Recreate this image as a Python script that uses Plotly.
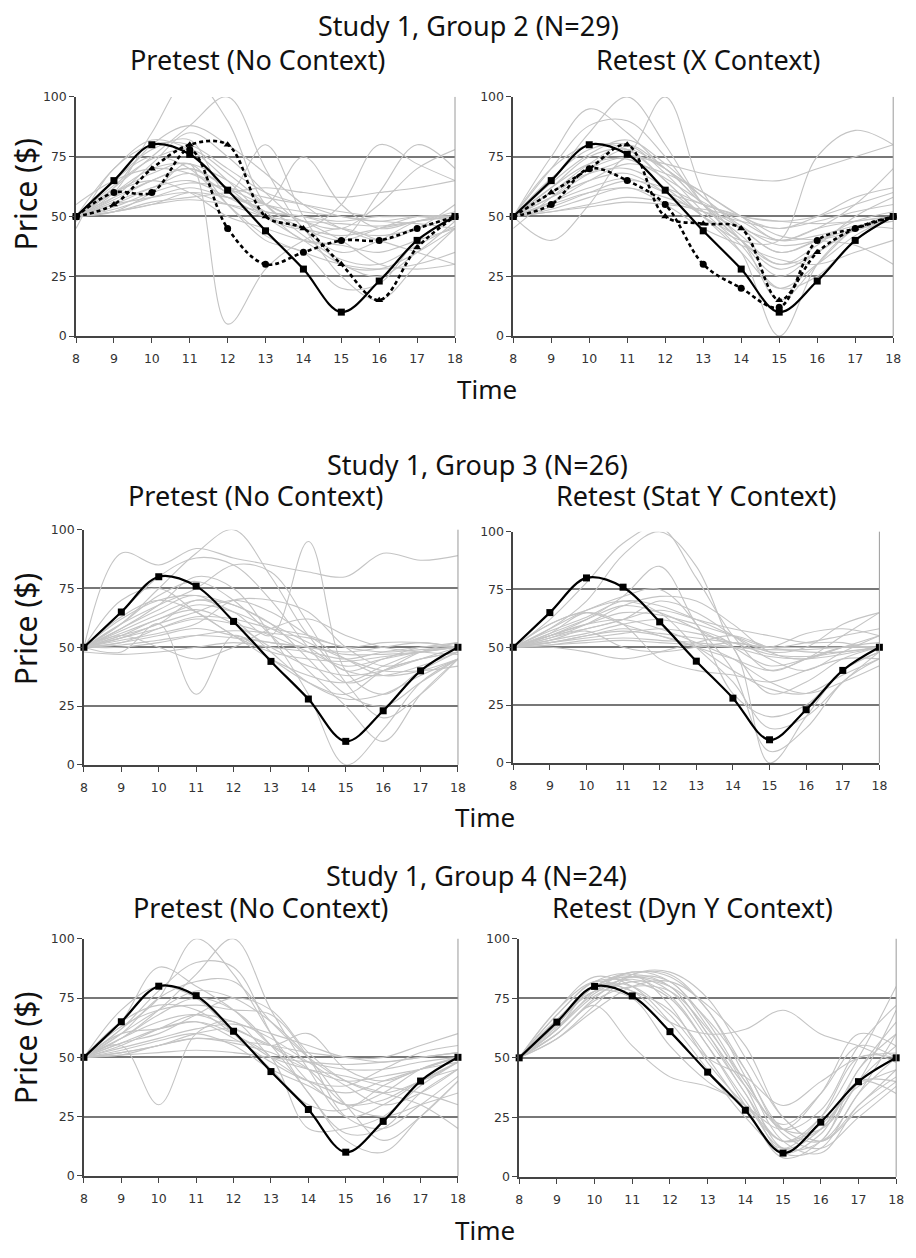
import plotly.graph_objects as go

W, H = 916, 1258

hours = [8, 9, 10, 11, 12, 13, 14, 15, 16, 17, 18]
x_ticks = hours
y_ticks = [0, 25, 50, 75, 100]

# actual price path (black line with squares)
true_price = [50, 65, 80, 76, 61, 44, 28, 10, 23, 40, 50]

# ---------------- Group 2 ----------------
g2_pre_gray = [
    [50, 60, 85, 108, 90, 55, 45, 40, 45, 50, 50],
    [50, 62, 75, 88, 100, 70, 45, 35, 40, 48, 50],
    [50, 52, 60, 72, 5, 28, 40, 45, 40, 35, 30],
    [45, 70, 80, 80, 70, 60, 55, 50, 48, 50, 50],
    [50, 65, 78, 82, 60, 80, 50, 30, 28, 35, 45],
    [50, 58, 65, 70, 62, 50, 45, 55, 80, 72, 65],
    [50, 55, 62, 68, 60, 52, 40, 40, 60, 80, 70],
    [50, 53, 58, 62, 58, 55, 48, 45, 55, 70, 78],
    [50, 60, 70, 72, 65, 55, 48, 40, 30, 28, 30],
    [50, 52, 55, 57, 55, 52, 50, 48, 50, 50, 50],
    [50, 56, 62, 65, 58, 50, 45, 42, 45, 48, 52],
    [50, 70, 82, 78, 65, 50, 40, 30, 25, 35, 48],
    [50, 60, 68, 72, 55, 40, 35, 20, 22, 40, 50],
    [55, 65, 70, 68, 60, 52, 50, 45, 40, 45, 55],
    [50, 58, 72, 85, 75, 60, 45, 25, 15, 30, 45],
    [50, 54, 60, 64, 62, 58, 55, 52, 50, 50, 48],
    [48, 62, 80, 88, 80, 68, 55, 45, 42, 45, 50],
    [50, 57, 65, 70, 62, 55, 52, 50, 48, 47, 45],
    [50, 63, 74, 78, 68, 55, 42, 32, 30, 38, 46],
    [50, 52, 55, 60, 58, 55, 75, 55, 45, 48, 50],
    [50, 60, 65, 60, 50, 45, 40, 38, 35, 40, 45],
    [50, 55, 58, 60, 55, 50, 48, 47, 46, 48, 50],
    [50, 65, 75, 70, 55, 42, 35, 30, 28, 30, 35],
    [50, 52, 56, 58, 60, 62, 60, 58, 60, 62, 65],
]
g2_pre_tri = [50, 55, 70, 80, 80, 50, 45, 30, 15, 37, 50]
g2_pre_circ = [50, 60, 60, 78, 45, 30, 35, 40, 40, 45, 50]

g2_ret_gray = [
    [50, 75, 95, 85, 70, 60, 50, 40, 45, 48, 50],
    [50, 65, 85, 100, 80, 55, 40, 30, 35, 45, 50],
    [50, 58, 68, 75, 100, 60, 40, 25, 35, 45, 50],
    [50, 40, 55, 75, 70, 55, 45, 35, 40, 45, 48],
    [50, 60, 70, 75, 72, 68, 66, 65, 70, 75, 80],
    [50, 62, 75, 78, 65, 50, 40, 40, 75, 86, 80],
    [50, 55, 60, 62, 58, 52, 45, 40, 45, 55, 70],
    [50, 58, 65, 68, 60, 50, 35, 0, 30, 45, 50],
    [50, 70, 80, 78, 65, 50, 35, 20, 30, 42, 50],
    [50, 52, 55, 58, 56, 52, 48, 45, 48, 52, 55],
    [50, 60, 72, 80, 70, 55, 42, 30, 38, 50, 58],
    [50, 54, 60, 65, 62, 55, 50, 42, 40, 38, 30],
    [50, 66, 78, 80, 68, 52, 38, 20, 25, 40, 50],
    [50, 56, 62, 66, 60, 55, 50, 48, 50, 55, 60],
    [50, 64, 76, 82, 72, 58, 45, 35, 40, 48, 52],
    [50, 52, 54, 56, 55, 53, 50, 48, 47, 48, 50],
    [50, 60, 68, 70, 62, 50, 40, 15, 30, 45, 50],
    [50, 70, 88, 90, 75, 55, 40, 28, 35, 45, 45],
    [50, 56, 65, 72, 68, 60, 50, 45, 50, 58, 62],
    [50, 53, 58, 62, 55, 45, 38, 32, 30, 35, 40],
    [50, 62, 72, 74, 66, 56, 48, 40, 42, 46, 48],
    [45, 58, 70, 78, 70, 58, 46, 38, 40, 44, 50],
]
g2_ret_tri = [50, 60, 70, 80, 50, 47, 45, 15, 35, 45, 50]
g2_ret_circ = [50, 55, 70, 65, 55, 30, 20, 12, 40, 45, 50]

# ---------------- Group 3 ----------------
g3_pre_gray = [
    [50, 90, 85, 92, 88, 85, 82, 80, 90, 87, 89],
    [50, 60, 75, 90, 100, 80, 55, 40, 45, 50, 50],
    [50, 55, 60, 70, 65, 55, 95, 40, 30, 40, 48],
    [50, 48, 60, 30, 55, 45, 35, 30, 40, 45, 48],
    [50, 58, 68, 80, 75, 55, 30, 0, 15, 35, 45],
    [50, 60, 72, 78, 70, 55, 40, 25, 10, 30, 45],
    [50, 52, 55, 58, 55, 52, 50, 48, 50, 52, 50],
    [50, 54, 58, 62, 60, 55, 48, 42, 45, 48, 50],
    [50, 56, 62, 68, 65, 58, 50, 40, 38, 42, 48],
    [50, 65, 80, 88, 85, 70, 50, 35, 40, 48, 52],
    [50, 50, 52, 55, 57, 56, 54, 50, 48, 49, 50],
    [50, 62, 70, 72, 68, 60, 45, 30, 25, 35, 45],
    [50, 53, 56, 60, 70, 70, 65, 50, 42, 45, 48],
    [50, 70, 75, 65, 55, 45, 38, 35, 42, 48, 50],
    [50, 57, 64, 70, 68, 60, 52, 45, 40, 40, 42],
    [50, 51, 53, 55, 54, 52, 50, 47, 47, 48, 50],
    [50, 60, 68, 75, 85, 82, 60, 35, 20, 30, 45],
    [50, 55, 62, 66, 60, 50, 42, 38, 40, 45, 50],
    [48, 47, 48, 50, 52, 50, 48, 45, 48, 50, 52],
    [50, 63, 70, 65, 55, 48, 45, 44, 46, 48, 50],
    [50, 52, 58, 63, 62, 58, 55, 50, 52, 52, 50],
    [50, 58, 66, 72, 62, 48, 35, 28, 30, 38, 45],
    [50, 55, 50, 45, 50, 58, 62, 55, 50, 48, 47],
    [50, 54, 60, 65, 70, 65, 55, 45, 38, 40, 45],
]

g3_ret_gray = [
    [50, 62, 78, 95, 102, 80, 55, 40, 45, 50, 50],
    [50, 58, 70, 90, 100, 85, 50, 30, 35, 45, 50],
    [50, 55, 62, 72, 85, 60, 40, 5, 15, 35, 45],
    [50, 52, 55, 58, 56, 54, 52, 50, 50, 50, 50],
    [50, 51, 52, 53, 52, 51, 50, 49, 49, 50, 50],
    [50, 56, 62, 68, 65, 58, 50, 42, 45, 50, 55],
    [50, 60, 65, 60, 55, 50, 45, 40, 45, 55, 65],
    [50, 54, 58, 62, 70, 65, 55, 45, 40, 48, 55],
    [50, 57, 63, 70, 68, 62, 55, 48, 50, 60, 65],
    [50, 53, 56, 60, 62, 58, 50, 0, 20, 40, 48],
    [50, 52, 54, 56, 58, 56, 52, 47, 46, 48, 50],
    [50, 55, 60, 62, 58, 52, 45, 35, 30, 35, 42],
    [50, 58, 66, 72, 75, 60, 30, 20, 25, 40, 48],
    [50, 50, 48, 45, 48, 52, 55, 50, 48, 48, 50],
    [50, 55, 60, 65, 64, 60, 55, 50, 52, 55, 58],
    [50, 56, 65, 60, 45, 40, 38, 35, 40, 45, 45],
    [50, 52, 55, 57, 55, 50, 40, 32, 30, 38, 45],
    [50, 60, 66, 70, 65, 50, 35, 15, 20, 35, 48],
    [50, 51, 53, 54, 53, 52, 50, 46, 45, 47, 50],
    [50, 54, 60, 68, 72, 70, 60, 48, 45, 50, 52],
    [50, 53, 57, 50, 48, 50, 52, 50, 56, 58, 55],
    [50, 55, 58, 62, 66, 62, 58, 55, 52, 52, 48],
]

# ---------------- Group 4 ----------------
g4_pre_gray = [
    [50, 62, 75, 100, 85, 60, 40, 30, 35, 45, 50],
    [50, 58, 70, 85, 100, 70, 45, 25, 30, 40, 48],
    [50, 55, 30, 60, 65, 50, 40, 35, 40, 45, 50],
    [50, 65, 88, 80, 70, 55, 45, 30, 25, 30, 35],
    [50, 60, 75, 82, 82, 65, 50, 40, 35, 30, 20],
    [50, 52, 55, 60, 62, 55, 60, 45, 40, 45, 50],
    [50, 58, 68, 75, 70, 55, 35, 15, 10, 25, 40],
    [50, 52, 55, 58, 57, 55, 52, 50, 48, 50, 52],
    [50, 55, 62, 68, 65, 58, 48, 38, 30, 35, 45],
    [50, 65, 72, 70, 60, 50, 20, 20, 25, 38, 48],
    [50, 51, 52, 53, 52, 50, 48, 47, 48, 50, 52],
    [50, 60, 70, 78, 75, 65, 50, 30, 15, 25, 40],
    [50, 56, 62, 65, 58, 48, 40, 38, 45, 52, 55],
    [50, 62, 78, 90, 88, 60, 35, 18, 20, 35, 45],
    [50, 54, 58, 62, 64, 60, 55, 50, 50, 55, 60],
    [50, 58, 65, 68, 62, 55, 48, 45, 45, 48, 50],
    [50, 70, 80, 75, 60, 45, 30, 28, 38, 45, 50],
    [50, 53, 57, 60, 55, 45, 38, 30, 32, 40, 45],
    [50, 56, 60, 68, 75, 70, 52, 40, 35, 40, 48],
    [50, 63, 70, 72, 70, 68, 50, 25, 20, 30, 42],
    [50, 51, 55, 58, 56, 52, 45, 40, 42, 45, 48],
    [50, 60, 62, 65, 60, 50, 45, 42, 38, 35, 30],
]

g4_ret_gray = [
    [50, 65, 80, 85, 80, 60, 35, 15, 25, 50, 80],
    [50, 62, 78, 86, 82, 65, 40, 20, 20, 40, 70],
    [50, 68, 82, 82, 75, 55, 32, 12, 20, 45, 65],
    [50, 60, 75, 85, 85, 70, 45, 20, 15, 35, 60],
    [50, 70, 84, 80, 65, 45, 25, 12, 25, 50, 50],
    [50, 64, 78, 75, 55, 40, 30, 20, 35, 60, 55],
    [50, 58, 72, 85, 86, 75, 50, 25, 15, 30, 45],
    [50, 66, 80, 84, 78, 58, 35, 10, 12, 35, 50],
    [50, 60, 72, 55, 42, 38, 30, 15, 20, 40, 40],
    [50, 62, 80, 78, 65, 60, 62, 70, 60, 55, 48],
    [50, 65, 80, 86, 84, 70, 42, 15, 10, 30, 42],
    [50, 70, 82, 78, 70, 50, 28, 10, 18, 40, 35],
    [50, 62, 76, 82, 80, 66, 45, 18, 12, 25, 38],
    [50, 66, 78, 83, 76, 55, 30, 8, 15, 40, 55],
    [50, 60, 74, 80, 78, 62, 40, 20, 28, 55, 72],
    [50, 64, 80, 84, 80, 60, 38, 22, 35, 55, 50],
    [50, 68, 82, 85, 72, 48, 30, 15, 22, 38, 45],
    [50, 58, 70, 80, 82, 72, 55, 25, 15, 28, 40],
    [50, 63, 77, 84, 82, 63, 38, 12, 15, 45, 60],
    [50, 66, 80, 80, 68, 50, 42, 30, 40, 50, 52],
]

# ---------------- layout of the six panels (pixel boxes) ----------------
panels = [
    dict(gray=g2_pre_gray, dashed=[(g2_pre_tri, "triangle-up"), (g2_pre_circ, "circle")], px=(73, 457), py=(90, 332)),
    dict(gray=g2_ret_gray, dashed=[(g2_ret_tri, "triangle-up"), (g2_ret_circ, "circle")], px=(516, 901), py=(90, 332)),
    dict(gray=g3_pre_gray, dashed=[], px=(81, 460), py=(528, 766)),
    dict(gray=g3_ret_gray, dashed=[], px=(516, 887), py=(530, 764)),
    dict(gray=g4_pre_gray, dashed=[], px=(81, 460), py=(942, 1182)),
    dict(gray=g4_ret_gray, dashed=[], px=(522, 904), py=(942, 1183)),
]

fig = go.Figure()
layout = {}
shapes = []
tickfont = dict(family="DejaVu Sans", size=12.5, color="#333333")

for i, p in enumerate(panels, start=1):
    sfx = "" if i == 1 else str(i)
    xa, ya = "x" + sfx, "y" + sfx
    for row in p["gray"]:
        fig.add_trace(go.Scatter(
            x=hours, y=row, mode="lines", xaxis=xa, yaxis=ya,
            line=dict(color="#c4c4c4", width=1.1, shape="spline", smoothing=1.0),
            hoverinfo="skip", showlegend=False))
    for row, sym in p["dashed"]:
        fig.add_trace(go.Scatter(
            x=hours, y=row, mode="lines+markers", xaxis=xa, yaxis=ya,
            line=dict(color="black", width=2.6, dash="4px,3px", shape="spline", smoothing=1.0),
            marker=dict(symbol=sym, size=7, color="black"),
            cliponaxis=False, showlegend=False))
    fig.add_trace(go.Scatter(
        x=hours, y=true_price, mode="lines+markers", xaxis=xa, yaxis=ya,
        line=dict(color="black", width=2.2, shape="spline", smoothing=1.0),
        marker=dict(symbol="square", size=7, color="black"),
        cliponaxis=False, showlegend=False))

    x0, x1 = p["px"]
    y0, y1 = p["py"]
    layout["xaxis" + sfx] = dict(
        domain=[x0 / W, x1 / W], anchor=ya, range=[8, 18],
        tickvals=x_ticks, ticks="outside", ticklen=5, tickcolor="#444",
        showline=True, linecolor="#444", linewidth=1.5,
        showgrid=False, zeroline=False, tickfont=tickfont,
        ticklabelstandoff=5, fixedrange=True)
    layout["yaxis" + sfx] = dict(
        domain=[1 - y1 / H, 1 - y0 / H], anchor=xa, range=[0, 100],
        tickvals=y_ticks, ticks="outside", ticklen=5, tickcolor="#444",
        showline=True, linecolor="#444", linewidth=1.5,
        showgrid=True, gridcolor="#777777", gridwidth=1.6,
        zeroline=False, tickfont=tickfont, fixedrange=True)
    shapes.append(dict(type="line", xref=xa + " domain", yref=ya + " domain",
                       x0=1, x1=1, y0=0, y1=1, line=dict(color="#9a9a9a", width=1)))

texts = [
    ("Study 1, Group 2 (N=29)", 471, 18, 0, 27),
    ("Pretest (No Context)", 257, 52, 0, 27),
    ("Retest (X Context)", 713, 52, 0, 27),
    ("Price ($)", 22, 188, -90, 30),
    ("Time", 489, 386, 0, 26),
    ("Study 1, Group 3 (N=26)", 480, 462, 0, 27),
    ("Pretest (No Context)", 255, 493, 0, 27),
    ("Retest (Stat Y Context)", 701, 493, 0, 27),
    ("Price ($)", 22, 628, -90, 30),
    ("Time", 487, 819, 0, 26),
    ("Study 1, Group 4 (N=24)", 479, 878, 0, 27),
    ("Pretest (No Context)", 260, 910, 0, 27),
    ("Retest (Dyn Y Context)", 698, 910, 0, 27),
    ("Price ($)", 22, 1052, -90, 30),
    ("Time", 487, 1237, 0, 26),
]
annotations = []
for t, xp, yp, ang, fs in texts:
    annotations.append(dict(text=t, x=xp / W, y=1 - yp / H, xref="paper", yref="paper",
                            xanchor="center", yanchor="middle", showarrow=False,
                            textangle=ang,
                            font=dict(family="Noto Sans", size=fs, color="#111111")))

fig.update_layout(
    width=W, height=H, margin=dict(l=0, r=0, t=0, b=0),
    paper_bgcolor="white", plot_bgcolor="white",
    annotations=annotations, shapes=shapes, showlegend=False,
    **layout)

fig.write_html("out.html")
